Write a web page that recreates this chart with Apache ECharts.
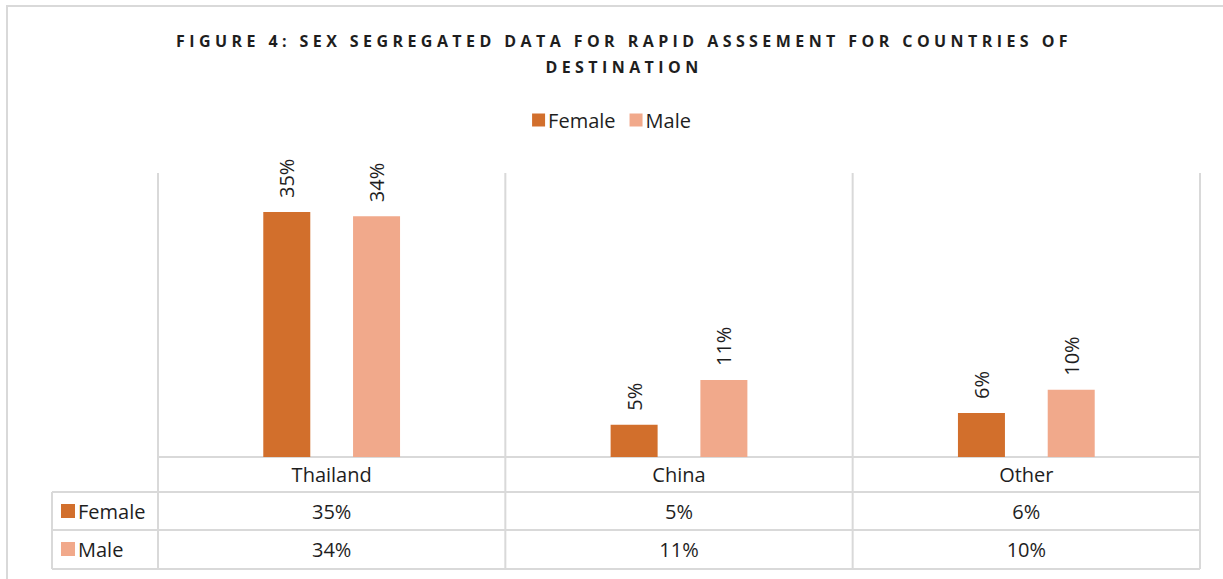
<!DOCTYPE html>
<html>
<head>
<meta charset="utf-8">
<script src="https://cdn.jsdelivr.net/npm/echarts@6/dist/echarts.min.js"></script>
<style>
html,body{margin:0;padding:0;background:#fff;}
#chart{width:1223px;height:579px;}
</style>
</head>
<body>
<div id="chart"></div>
<script>
const titleText = 'FIGURE 4: SEX SEGREGATED DATA FOR RAPID ASSSEMENT FOR COUNTRIES OF\nDESTINATION';
const categories = ['Thailand', 'China', 'Other'];
const seriesNames = ['Female', 'Male'];
const female = [35.0, 4.6, 6.3];
const male = [34.4, 11.0, 9.6];
const yMax = 40;

const FONT = '"Open Sans", Lato, sans-serif';
const TXT = '#1e1e1e';
const GRID = '#d9d9d9';
const COLORS = ['#d26f2c', '#f1a98b'];
const TITLE_WIDTH = 896;

const chart = echarts.init(document.getElementById('chart'), null, {renderer: 'svg'});
const pct = v => Math.round(v) + '%';

const labelStyle = {fontSize: 20, color: TXT, fontFamily: FONT};

function tableAxis(values, offset) {
  return {
    type: 'category', data: values.map(pct), position: 'bottom', offset: offset,
    axisLine: {show: false}, axisTick: {show: false}, splitLine: {show: false},
    axisLabel: Object.assign({margin: 7, interval: 0}, labelStyle)
  };
}

function barLabel() {
  return {show: true, position: 'top', rotate: 90, align: 'left', verticalAlign: 'middle',
    distance: 14, formatter: p => pct(p.value), fontSize: 20, color: TXT, fontFamily: FONT};
}

const option = {
  animation: false,
  color: COLORS,
  title: {
    text: titleText, left: 619, top: 23, textAlign: 'center',
    textStyle: {fontSize: 16, fontWeight: 'bold', color: TXT, fontFamily: FONT, lineHeight: 26}
  },
  legend: [
    {
      data: seriesNames, left: 'center', top: 110, padding: 0,
      itemWidth: 13, itemHeight: 13, itemGap: 14, icon: 'rect',
      textStyle: Object.assign({padding: [0, 0, 0, -2]}, labelStyle)
    },
    {
      data: seriesNames, orient: 'vertical', left: 61, top: 501, padding: 0,
      itemWidth: 14, itemHeight: 14, itemGap: 18, icon: 'rect',
      textStyle: Object.assign({padding: [0, 0, 0, -2]}, labelStyle)
    }
  ],
  grid: {left: 158, right: 23, top: 177, bottom: 122, containLabel: false},
  xAxis: [
    {
      type: 'category', data: categories, position: 'bottom',
      axisLine: {show: false}, axisTick: {show: false}, splitLine: {show: false},
      axisLabel: Object.assign({margin: 7, interval: 0}, labelStyle)
    },
    tableAxis(female, 37),
    tableAxis(male, 75)
  ],
  yAxis: {type: 'value', min: 0, max: yMax, show: false, splitLine: {show: false}},
  series: [
    {name: seriesNames[0], type: 'bar', data: female, barWidth: 47, barGap: '91%', label: barLabel()},
    {name: seriesNames[1], type: 'bar', data: male, barWidth: 47, barGap: '91%', label: barLabel()}
  ]
};
chart.setOption(option);

function buildGraphic() {
  const c0 = chart.convertToPixel({xAxisIndex: 0}, categories[0]);
  const c1 = chart.convertToPixel({xAxisIndex: 0}, categories[1]);
  const band = c1 - c0;
  const y0 = chart.convertToPixel({yAxisIndex: 0}, 0);
  const yTop = chart.convertToPixel({yAxisIndex: 0}, yMax) - 4;
  const rows = [y0, y0 + 35, y0 + 73, y0 + 112];
  const left = c0 - band / 2;
  const right = left + band * categories.length;
  const tableLeft = 52;
  const els = [];
  const line = (x1, y1, x2, y2) => els.push({
    type: 'line', shape: {x1, y1, x2, y2}, silent: true,
    style: {stroke: GRID, lineWidth: 2}
  });
  for (let i = 0; i <= categories.length; i++) {
    const x = left + band * i;
    line(x, yTop, x, rows[3]);
  }
  line(left, rows[0], right, rows[0]);
  for (let r = 1; r < rows.length; r++) line(tableLeft, rows[r], right, rows[r]);
  line(tableLeft, rows[1], tableLeft, rows[3]);
  els.push({type: 'rect', shape: {x: 7, y: 6, width: 1240, height: 600}, silent: true,
    style: {fill: 'none', stroke: GRID, lineWidth: 2}});
  chart.setOption({graphic: {elements: els}});
}
buildGraphic();

let spacing = null;
function spaceTitle() {
  const texts = Array.from(document.querySelectorAll('#chart svg text'));
  const first = texts.find(t => t.textContent.indexOf('FIGURE') === 0);
  if (!first) return;
  if (spacing === null) {
    first.removeAttribute('letter-spacing');
    first.style.letterSpacing = '0px';
    const w = first.getComputedTextLength();
    const n = first.textContent.length;
    spacing = Math.max(0, (TITLE_WIDTH - w) / n);
  }
  texts.forEach(t => {
    const s = t.textContent;
    if (s.indexOf('FIGURE') === 0 || s === 'DESTINATION') {
      t.setAttribute('letter-spacing', spacing + 'px');
      t.style.letterSpacing = spacing + 'px';
    }
  });
}
chart.on('finished', spaceTitle);
spaceTitle();
</script>
</body>
</html>
